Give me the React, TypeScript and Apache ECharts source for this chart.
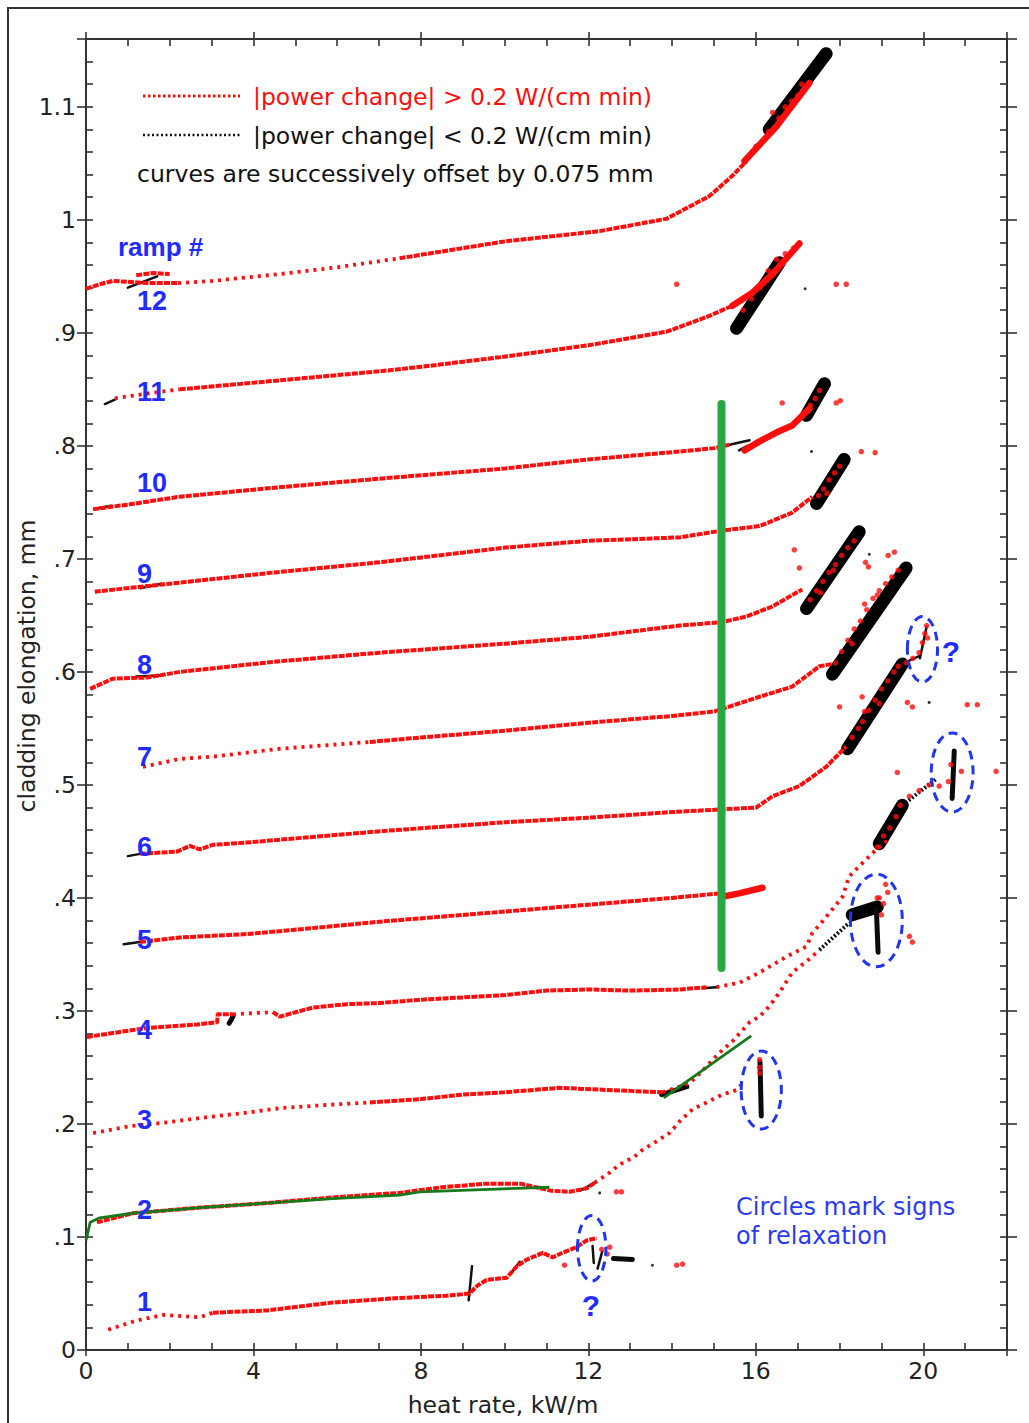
import React, { useEffect, useRef } from 'react';
import * as echarts from 'echarts';

type P = [number, number];

// ---------- tick labels ----------
const xTickLabels = ['0', '4', '8', '12', '16', '20'];
const yTickLabels = ['0', '.1', '.2', '.3', '.4', '.5', '.6', '.7', '.8', '.9', '1', '1.1'];

// ---------- ramp curves (heat rate kW/m, elongation mm) ----------
// ramp 1
const r1a: P[] = [[0.53, 0.018], [1.2, 0.026], [1.84, 0.031], [2.72, 0.029], [3.03, 0.033]];
const r1b: P[] = [[3.03, 0.033], [4.32, 0.035], [5.89, 0.042], [7.49, 0.046], [8.6, 0.048], [9.16, 0.05], [9.35, 0.057], [9.57, 0.062], [10.05, 0.064], [10.29, 0.074], [10.53, 0.08], [10.91, 0.086], [11.15, 0.082], [11.38, 0.086], [11.72, 0.091], [11.96, 0.097], [12.2, 0.099]];
const r1dots: P[] = [[11.43, 0.075], [12.32, 0.089], [12.51, 0.091], [12.45, 0.085], [14.11, 0.075], [14.25, 0.076]];
// ramp 2
const r2a: P[] = [[0.26, 0.113], [1.12, 0.121], [2.72, 0.126], [4.32, 0.13], [5.89, 0.135], [7.49, 0.139], [8.5, 0.144], [9.5, 0.147], [10.4, 0.147], [11.1, 0.141], [11.55, 0.14], [11.96, 0.143], [12.15, 0.148]];
const r2b: P[] = [[12.15, 0.148], [12.51, 0.157], [12.74, 0.164], [13.1, 0.171], [13.29, 0.177], [13.6, 0.184], [13.94, 0.192], [14.2, 0.203], [14.49, 0.213], [14.82, 0.219], [15.2, 0.226], [15.54, 0.23], [15.66, 0.235]];
const r2dots: P[] = [[16.09, 0.257], [16.09, 0.25], [16.1, 0.245], [12.67, 0.14], [12.79, 0.14]];
// ramp 3
const r3a: P[] = [[0.17, 0.192], [1.05, 0.198], [1.84, 0.201], [2.89, 0.206], [3.84, 0.21], [4.63, 0.214], [5.82, 0.217], [6.78, 0.219]];
const r3b: P[] = [[6.78, 0.219], [8.0, 0.222], [9.0, 0.226], [10.0, 0.228], [11.31, 0.232], [12.5, 0.23], [13.77, 0.228]];
const r3c: P[] = [[13.77, 0.228], [14.42, 0.236], [14.8, 0.25], [15.13, 0.263], [15.44, 0.273], [15.85, 0.29], [16.09, 0.295], [16.32, 0.304], [16.56, 0.316], [16.87, 0.334], [17.28, 0.346], [17.52, 0.354]];
const r3dots: P[] = [[18.95, 0.4], [19.05, 0.395], [19.0, 0.385], [19.15, 0.405], [19.1, 0.412], [18.9, 0.4], [19.67, 0.366], [19.74, 0.361]];
// ramp 4
const r4a: P[] = [[0.02, 0.277], [1.46, 0.285], [2.65, 0.288], [3.13, 0.29], [3.15, 0.297], [3.51, 0.297]];
const r4b: P[] = [[3.51, 0.297], [4.46, 0.299]];
const r4c: P[] = [[4.46, 0.299], [4.63, 0.295], [5.42, 0.303], [6.23, 0.306], [7.02, 0.307], [8.02, 0.31], [10.0, 0.314], [11.0, 0.318], [12.0, 0.319], [13.0, 0.318], [14.18, 0.319], [14.82, 0.321]];
const r4d: P[] = [[15.06, 0.321], [15.61, 0.325], [16.09, 0.334], [16.73, 0.348], [17.21, 0.357], [17.35, 0.369], [17.52, 0.376], [17.83, 0.39], [18.07, 0.401], [18.23, 0.419], [18.47, 0.428], [18.88, 0.443], [19.19, 0.452]];
const r4dots: P[] = [[18.9, 0.445], [19.05, 0.455], [19.2, 0.462], [19.35, 0.472], [19.45, 0.482], [19.67, 0.49], [19.9, 0.495], [20.14, 0.5], [20.38, 0.499], [19.38, 0.511], [20.6, 0.503], [20.66, 0.518], [20.91, 0.512], [21.74, 0.512]];
// ramp 5
const r5: P[] = [[1.29, 0.361], [2.24, 0.365], [3.84, 0.368], [5.04, 0.372], [7.02, 0.379], [10.02, 0.388], [12.0, 0.394], [14.0, 0.4], [15.13, 0.404]];
const r5tail: P[] = [[15.2, 0.401], [15.6, 0.404], [16.16, 0.409]];
// ramp 6
const r6: P[] = [[1.29, 0.439], [2.17, 0.441], [2.48, 0.446], [2.72, 0.443], [3.03, 0.447], [3.84, 0.449], [5.42, 0.454], [7.02, 0.459], [10.02, 0.467], [12.0, 0.471], [14.0, 0.476], [16.01, 0.48], [16.4, 0.49], [17.04, 0.499], [17.68, 0.516], [18.16, 0.534]];
const r6dots: P[] = [[18.3, 0.542], [18.45, 0.55], [18.55, 0.556], [18.7, 0.566], [18.85, 0.575], [19.0, 0.585], [19.15, 0.592], [19.3, 0.6], [18.6, 0.565], [18.95, 0.572], [19.4, 0.605], [19.6, 0.608], [19.75, 0.612], [19.9, 0.617], [19.98, 0.626], [20.04, 0.634], [20.08, 0.641], [20.1, 0.63], [18.0, 0.569], [18.54, 0.578], [19.62, 0.573], [19.74, 0.569], [21.05, 0.571], [21.29, 0.571]];
// ramp 7
const r7a: P[] = [[1.36, 0.516], [2.24, 0.523], [3.03, 0.525], [4.63, 0.532], [6.78, 0.538]];
const r7b: P[] = [[6.78, 0.538], [8.02, 0.542], [10.02, 0.548], [12.0, 0.555], [14.0, 0.561], [15.01, 0.565], [16.09, 0.578], [16.87, 0.587], [17.52, 0.605], [17.83, 0.607]];
const r7dots: P[] = [[17.9, 0.608], [18.05, 0.618], [18.2, 0.628], [18.35, 0.638], [18.5, 0.645], [18.65, 0.655], [18.8, 0.665], [18.95, 0.672], [19.1, 0.678], [19.25, 0.684], [19.4, 0.69], [18.3, 0.625], [18.6, 0.66], [18.9, 0.668]];
// ramp 8
const r8: P[] = [[0.1, 0.585], [0.64, 0.594], [1.46, 0.595], [2.24, 0.6], [4.5, 0.609], [7.02, 0.617], [10.02, 0.625], [12.0, 0.631], [14.18, 0.641], [15.18, 0.644], [15.78, 0.649], [16.4, 0.658], [17.11, 0.673]];
const r8dots: P[] = [[17.3, 0.664], [17.45, 0.672], [17.6, 0.68], [17.75, 0.688], [17.9, 0.695], [18.05, 0.703], [18.2, 0.71], [18.35, 0.716], [17.55, 0.67], [17.85, 0.69], [16.92, 0.708], [17.04, 0.692], [18.62, 0.697], [18.69, 0.693], [19.16, 0.703], [19.31, 0.706]];
// ramp 9
const r9: P[] = [[0.21, 0.671], [2.24, 0.679], [4.5, 0.688], [7.02, 0.697], [10.02, 0.71], [12.0, 0.716], [14.18, 0.719], [15.18, 0.725], [16.09, 0.729], [16.87, 0.741], [17.35, 0.755]];
const r9dots: P[] = [[17.5, 0.756], [17.62, 0.762], [17.75, 0.77], [17.88, 0.776], [18.0, 0.782], [17.7, 0.758], [18.52, 0.795], [18.85, 0.794]];
// ramp 10
const r10: P[] = [[0.17, 0.744], [1.0, 0.748], [2.24, 0.755], [4.5, 0.763], [7.02, 0.771], [10.02, 0.78], [12.0, 0.788], [14.18, 0.795], [15.01, 0.798], [15.37, 0.801]];
const r10tail: P[] = [[15.73, 0.796], [16.09, 0.804], [16.5, 0.812], [16.87, 0.818], [17.28, 0.833]];
const r10dots: P[] = [[17.3, 0.836], [17.42, 0.842], [17.52, 0.849], [16.63, 0.838], [17.92, 0.838], [18.02, 0.84]];
// ramp 11
const r11a: P[] = [[0.69, 0.842], [1.4, 0.846], [2.24, 0.85]];
const r11b: P[] = [[2.24, 0.85], [4.63, 0.858], [7.02, 0.866], [8.02, 0.87], [10.02, 0.879], [12.0, 0.889], [13.87, 0.901], [14.89, 0.915], [15.44, 0.924]];
const r11tail: P[] = [[15.44, 0.924], [15.9, 0.935], [16.4, 0.952], [17.04, 0.979]];
const r11dots: P[] = [[15.7, 0.92], [15.9, 0.93], [16.1, 0.94], [16.3, 0.955], [16.5, 0.965], [16.7, 0.97], [16.9, 0.975], [14.11, 0.943], [17.92, 0.943], [18.16, 0.943]];
// ramp 12
const r12a: P[] = [[0.0, 0.939], [0.33, 0.943], [0.64, 0.946], [1.46, 0.944], [2.2, 0.944]];
const r12b: P[] = [[2.2, 0.944], [3.03, 0.946], [4.63, 0.952], [6.0, 0.958], [7.49, 0.966]];
const r12c: P[] = [[7.49, 0.966], [10.02, 0.981], [12.27, 0.99], [13.87, 1.001], [14.89, 1.021], [15.44, 1.039], [15.78, 1.052]];
const r12bump: P[] = [[1.2, 0.951], [1.6, 0.953], [2.0, 0.952]];
const r12tail: P[] = [[15.73, 1.052], [16.5, 1.083], [17.28, 1.121]];
const r12dots: P[] = [[16.0, 1.065], [16.3, 1.078], [16.55, 1.09], [16.7, 1.1], [16.85, 1.105], [17.0, 1.11], [17.1, 1.12], [16.4, 1.095]];

// black (|power change| < 0.2) clusters
const blobs: P[][] = [
  [[18.3, 0.385], [18.9, 0.392]],
  [[18.95, 0.448], [19.5, 0.482]],
  [[18.19, 0.532], [19.5, 0.607]],
  [[17.83, 0.598], [19.59, 0.692]],
  [[17.21, 0.656], [18.47, 0.724]],
  [[17.45, 0.749], [18.11, 0.788]],
  [[17.21, 0.827], [17.64, 0.855]],
  [[15.54, 0.904], [16.56, 0.962]],
  [[16.32, 1.08], [17.68, 1.147]],
];
const smallBlack: P[][] = [
  [[12.6, 0.081], [13.05, 0.08]],
  [[16.1, 0.255], [16.13, 0.207]],
  [[18.88, 0.39], [18.92, 0.352]],
  [[13.75, 0.226], [14.35, 0.233]],
  [[20.69, 0.488], [20.74, 0.53]],
  [[3.42, 0.289], [3.51, 0.295]],
];
const thinBlack: P[][] = [
  [[9.14, 0.044], [9.22, 0.074]],
  [[10.2, 0.07], [10.36, 0.078]],
  [[12.1, 0.092], [12.13, 0.077]],
  [[12.22, 0.072], [12.33, 0.087]],
  [[11.8, 0.141], [12.15, 0.148]],
  [[14.73, 0.32], [15.06, 0.321]],
  [[0.9, 0.359], [1.29, 0.361]],
  [[1.0, 0.437], [1.29, 0.439]],
  [[19.5, 0.607], [19.9, 0.614]],
  [[19.92, 0.612], [20.08, 0.64]],
  [[1.2, 0.596], [1.84, 0.597]],
  [[1.3, 0.674], [1.8, 0.678]],
  [[15.37, 0.801], [15.85, 0.805]],
  [[15.6, 0.796], [15.8, 0.8]],
  [[0.3, 0.745], [0.6, 0.747]],
  [[0.45, 0.837], [0.69, 0.841]],
  [[1.0, 0.94], [1.7, 0.95]],
];
const blackChains: P[][] = [
  [[17.52, 0.354], [18.23, 0.378]],
  [[19.5, 0.482], [20.3, 0.505]],
];
const blackDots: P[] = [[13.53, 0.075], [12.27, 0.139], [20.14, 0.573], [18.71, 0.704], [17.33, 0.795], [17.18, 0.939]];

// green fits
const greenVertical: P[] = [[15.18, 0.338], [15.18, 0.837]];
const fitRamp2: P[] = [[0, 0.097], [0.1, 0.113], [0.33, 0.117], [1.12, 0.121], [2.72, 0.126], [4.32, 0.13], [5.89, 0.134], [7.49, 0.137], [7.97, 0.14], [11.07, 0.144]];
const fitRamp3: P[] = [[13.8, 0.223], [15.89, 0.278]];

// relaxation circles: [cx, cy, rx, ry] in data units
const relaxEllipses = [
  [12.08, 0.09, 0.34, 0.029],
  [16.13, 0.23, 0.48, 0.0345],
  [18.88, 0.38, 0.62, 0.041],
  [20.69, 0.511, 0.5, 0.035],
  [19.98, 0.62, 0.36, 0.029],
];

const rampLabels = ['12', '11', '10', '9', '8', '7', '6', '5', '4', '3', '2', '1'];
const rampLabelY = [301, 392, 483, 574, 665, 757, 847, 940, 1030, 1120, 1210, 1302];

const denseRed = [r1b, r2a, r3b, r4a, r4c, r5, r6, r7b, r8, r9, r10, r11b, r12a, r12c, r12bump];
const sparseRed = [r1a, r2b, r3a, r3c, r4b, r4d, r7a, r11a, r12b];
const thickRed = [r5tail, r10tail, r11tail, r12tail];
const redDots = [r1dots, r2dots, r3dots, r4dots, r6dots, r7dots, r8dots, r9dots, r10dots, r11dots, r12dots].flat();

const RED = '#ff0d0d';
const BLUE = '#1f2bff';
const AX = '#333333';
const REG = 'DejaVu Sans';
const BOLD = 'Liberation Sans';

function lineSeries(data: P[], color: string, width: number, dash: any, z: number, opacity = 1, cap = 'butt') {
  return {
    type: 'line', data, symbol: 'none', showSymbol: false, silent: true, z,
    lineStyle: { color, width, type: dash, cap, join: 'round', opacity },
    animation: false,
  };
}

function xAxis(position: string, interval: number, inside: boolean, length: number, showLine: boolean, labels: boolean) {
  return {
    type: 'value', min: 0, max: 22, interval, position,
    axisLine: { show: showLine, onZero: false, lineStyle: { color: AX, width: 2 } },
    axisTick: { show: true, inside, length, lineStyle: { color: AX, width: 1.6 } },
    axisLabel: labels ? {
      show: true, margin: 9, fontSize: 23.5, fontFamily: REG, color: '#222',
      formatter: (v: number) => {
        const i = Math.round(v / 4);
        return Math.abs(v - i * 4) < 1e-6 && i < xTickLabels.length ? xTickLabels[i] : '';
      },
    } : { show: false },
    splitLine: { show: false },
  };
}

function yAxis(position: string, interval: number, inside: boolean, length: number, showLine: boolean, labels: boolean) {
  return {
    type: 'value', min: 0, max: 1.16, interval, position,
    axisLine: { show: showLine, onZero: false, lineStyle: { color: AX, width: 2 } },
    axisTick: { show: true, inside, length, lineStyle: { color: AX, width: 1.6 } },
    axisLabel: labels ? {
      show: true, margin: 10, fontSize: 23.5, fontFamily: REG, color: '#222',
      formatter: (v: number) => {
        const i = Math.round(v * 10);
        return Math.abs(v * 10 - i) < 1e-6 && i < yTickLabels.length ? yTickLabels[i] : '';
      },
    } : { show: false },
    splitLine: { show: false },
  };
}

function buildOption() {
  const series: any[] = [];
  blobs.forEach((b) => {
    series.push(lineSeries(b, '#000', 13, 'solid', 3, 1, 'round'));
  });
  smallBlack.forEach((b) => series.push(lineSeries(b, '#0a0a0a', 5, 'solid', 3, 1, 'round')));
  thinBlack.forEach((b) => series.push(lineSeries(b, '#111', 2.5, 'solid', 3, 1, 'round')));
  blackChains.forEach((b) => series.push(lineSeries(b, '#111', 4, [2, 2], 3, 1, 'butt')));
  denseRed.forEach((d) => series.push(lineSeries(d, RED, 4, [6, 1.2], 4)));
  sparseRed.forEach((d) => series.push(lineSeries(d, RED, 3.8, [3, 5], 4)));
  thickRed.forEach((d) => series.push(lineSeries(d, RED, 6.5, 'solid', 4, 1, 'round')));
  series.push({ type: 'scatter', data: redDots, symbol: 'circle', symbolSize: 5.5, itemStyle: { color: RED }, z: 5, silent: true, animation: false });
  series.push({ type: 'scatter', data: blackDots, symbol: 'circle', symbolSize: 3, itemStyle: { color: '#000' }, z: 5, silent: true, animation: false });
  series.push(lineSeries(greenVertical, '#28a745', 8, 'solid', 6, 1, 'round'));
  series.push(lineSeries(fitRamp2, '#17781c', 2.8, 'solid', 6));
  series.push(lineSeries(fitRamp3, '#17781c', 2.8, 'solid', 6));
  series.push({
    type: 'custom', z: 7, silent: true, animation: false,
    data: relaxEllipses,
    renderItem: (params: any, api: any) => {
      const c = api.coord([api.value(0), api.value(1)]);
      const s = api.size([api.value(2), api.value(3)]);
      return {
        type: 'ellipse',
        shape: { cx: c[0], cy: c[1], rx: Math.abs(s[0]), ry: Math.abs(s[1]) },
        style: { fill: 'none', stroke: '#1f35ef', lineWidth: 3, lineDash: [9, 6] },
      };
    },
  });

  const graphic: any[] = [
    { type: 'rect', shape: { x: 8, y: 8, width: 1060, height: 1460 }, style: { fill: 'none', stroke: '#333', lineWidth: 2 }, silent: true },
    { type: 'line', shape: { x1: 143, y1: 96, x2: 240, y2: 96 }, style: { stroke: RED, lineWidth: 3, lineDash: [2.5, 2.5] } },
    { type: 'line', shape: { x1: 143, y1: 135, x2: 240, y2: 135 }, style: { stroke: '#111', lineWidth: 2.5, lineDash: [2, 2.5] } },
    { type: 'text', x: 253, y: 97, style: { text: '|power change| > 0.2 W/(cm min)', fill: RED, font: `23.5px "${REG}"`, verticalAlign: 'middle', align: 'left' } },
    { type: 'text', x: 253, y: 136, style: { text: '|power change| < 0.2 W/(cm min)', fill: '#111', font: `23.5px "${REG}"`, verticalAlign: 'middle', align: 'left' } },
    { type: 'text', x: 137, y: 174, style: { text: 'curves are successively offset by 0.075 mm', fill: '#111', font: `23.5px "${REG}"`, verticalAlign: 'middle', align: 'left' } },
    { type: 'text', x: 118, y: 247, style: { text: 'ramp #', fill: BLUE, font: `bold 26px "${BOLD}"`, verticalAlign: 'middle', align: 'left' } },
    { type: 'text', x: 736, y: 1207, style: { text: 'Circles mark signs', fill: '#2a3cf2', font: `24px "${REG}"`, verticalAlign: 'middle', align: 'left' } },
    { type: 'text', x: 736, y: 1236, style: { text: 'of relaxation', fill: '#2a3cf2', font: `24px "${REG}"`, verticalAlign: 'middle', align: 'left' } },
    { type: 'text', x: 591, y: 1305, style: { text: '?', fill: BLUE, font: `bold 30px "${BOLD}"`, verticalAlign: 'middle', align: 'center' } },
    { type: 'text', x: 951, y: 651, style: { text: '?', fill: BLUE, font: `bold 30px "${BOLD}"`, verticalAlign: 'middle', align: 'center' } },
    { type: 'text', x: 503, y: 1405, style: { text: 'heat rate, kW/m', fill: '#222', font: `23.5px "${REG}"`, verticalAlign: 'middle', align: 'center' } },
    { type: 'text', x: 27, y: 666, rotation: Math.PI / 2, style: { text: 'cladding elongation, mm', fill: '#222', font: `23.5px "${REG}"`, verticalAlign: 'middle', align: 'center' } },
  ];
  rampLabels.forEach((t, i) => {
    graphic.push({ type: 'text', x: 137, y: rampLabelY[i], z: 100, style: { text: t, fill: BLUE, font: `bold 27px "${BOLD}"`, verticalAlign: 'middle', align: 'left' } });
  });

  return {
    animation: false,
    backgroundColor: '#ffffff',
    grid: { left: 86, right: 22, top: 39, bottom: 73, containLabel: false, outerBoundsMode: 'none' },
    xAxis: [
      xAxis('bottom', 4, false, 6, true, true),
      xAxis('bottom', 1, true, 7, false, false),
      xAxis('top', 4, false, 7, true, false),
      xAxis('top', 1, true, 7, false, false),
    ],
    yAxis: [
      yAxis('left', 0.1, false, 9, true, true),
      yAxis('left', 0.02, true, 7, false, false),
      yAxis('right', 0.1, false, 10, true, false),
      yAxis('right', 0.02, true, 7, false, false),
    ],
    series,
    graphic,
  };
}

export default function App() {
  const ref = useRef<HTMLDivElement>(null);
  useEffect(() => {
    const chart = echarts.init(ref.current!, null, { renderer: 'svg' });
    chart.setOption(buildOption() as any);
    return () => chart.dispose();
  }, []);
  return (
    <div
      ref={ref}
      style={{ position: 'fixed', left: 0, top: 0, width: 1029, height: 1423, background: '#fff' }}
    />
  );
}
